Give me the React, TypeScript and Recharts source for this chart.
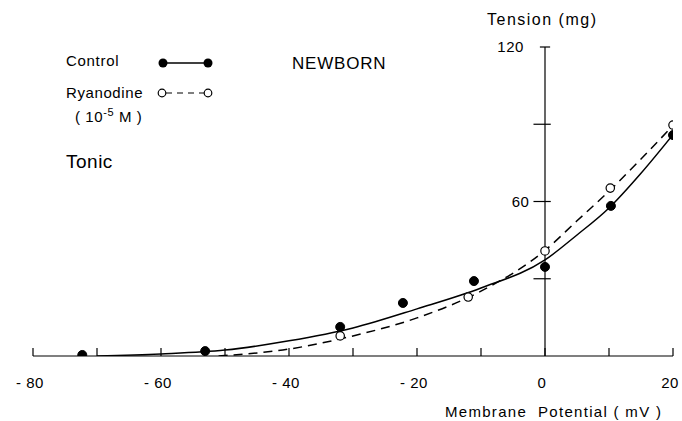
import React from 'react';
import { ComposedChart, Line, Scatter, XAxis, YAxis, ReferenceLine } from 'recharts';

const xTicks = [-80, -70, -60, -50, -40, -30, -20, -10, 0, 10, 20];
const xTickLabels: Record<number, string> = { [-80]: '- 80', [-60]: '- 60', [-40]: '- 40', [-20]: '- 20', 0: '0', 20: '20' };
const yTicks = [30, 60, 90, 120];
const yTickLabels: Record<number, string> = { 60: '60', 120: '120' };

const controlPoints = [
  { v: -72.3, t: 0.4 },
  { v: -53.1, t: 1.9 },
  { v: -32, t: 11.3 },
  { v: -22.2, t: 20.6 },
  { v: -11.1, t: 29.1 },
  { v: 0, t: 34.6 },
  { v: 10.3, t: 58.3 },
  { v: 20, t: 85.8 },
];
const ryanodinePoints = [
  { v: -32, t: 7.8 },
  { v: -12, t: 22.9 },
  { v: 0, t: 40.8 },
  { v: 10.2, t: 65.2 },
  { v: 20, t: 89.7 },
];
const controlCurve = [
  { v: -70, t: 0 },
  { v: -60, t: 0.8 },
  { v: -50, t: 2.3 },
  { v: -40, t: 5.9 },
  { v: -30, t: 10.9 },
  { v: -20, t: 18.3 },
  { v: -10, t: 26.4 },
  { v: 0, t: 37.3 },
  { v: 5, t: 47 },
  { v: 10, t: 57.5 },
  { v: 15, t: 71 },
  { v: 20, t: 86 },
];
const ryanodineCurve = [
  { v: -51, t: 0 },
  { v: -40, t: 2.7 },
  { v: -30, t: 7.8 },
  { v: -20, t: 14.8 },
  { v: -10, t: 25.2 },
  { v: 0, t: 41 },
  { v: 5, t: 52.5 },
  { v: 10, t: 64 },
  { v: 15, t: 76.5 },
  { v: 20, t: 89.5 },
];

const FONT = '"Liberation Sans", Arial, sans-serif';

const XTick = (props: any) => {
  const { x, y, payload } = props;
  const label = xTickLabels[payload.value];
  return (
    <g>
      <line x1={x} y1={y} x2={x} y2={y - 8} stroke="#000" strokeWidth={1.2} />
      {label !== undefined && (
        <text x={x - 3} y={y + 32} textAnchor="middle" fontSize={15} fontFamily={FONT} fill="#000" letterSpacing={0.5}>
          {label}
        </text>
      )}
    </g>
  );
};

const FilledDot = (props: any) => {
  const { cx, cy } = props;
  return <circle cx={cx} cy={cy} r={4.5} fill="#000" stroke="#000" />;
};
const OpenDot = (props: any) => {
  const { cx, cy } = props;
  return <circle cx={cx} cy={cy} r={4.2} fill="#fff" stroke="#000" strokeWidth={1.2} />;
};

const makeYLabel = (text: string, gap: number) => (p: any) => {
  const vb = p.viewBox || {};
  return (
    <text x={vb.x - gap} y={vb.y + 5} textAnchor="end" fontSize={15} fontFamily={FONT} fill="#000" letterSpacing={0.5}>
      {text}
    </text>
  );
};

export default function App() {
  return (
    <div style={{ position: 'absolute', left: 0, top: 0, width: 682, height: 421, background: '#fff' }}>
      <ComposedChart width={682} height={421} margin={{ top: 47, right: 9, bottom: 35, left: 33 }}>
        <XAxis
          type="number"
          dataKey="v"
          domain={[-80, 20]}
          ticks={xTicks}
          interval={0}
          allowDataOverflow
          axisLine={{ stroke: '#000', strokeWidth: 1.2 }}
          tickLine={false}
          tickSize={0}
          tickMargin={0}
          height={30}
          tick={<XTick />}
        />
        <YAxis type="number" dataKey="t" domain={[0, 120]} hide allowDataOverflow />
        <ReferenceLine x={0} stroke="#000" strokeWidth={1.2} />
        {yTicks.map((t) => (
          <ReferenceLine
            key={t}
            segment={t === 120 ? [{ x: -0.8, y: t }, { x: 0.8, y: t }] : [{ x: -1.8, y: t }, { x: 0.9, y: t }]}
            stroke="#000"
            strokeWidth={1.2}
            label={yTickLabels[t] ? makeYLabel(yTickLabels[t], t === 120 ? 16 : 4) : undefined}
          />
        ))}
        <Line data={controlCurve} dataKey="t" type="monotone" stroke="#000" strokeWidth={1.5} dot={false} isAnimationActive={false} />
        <Line data={ryanodineCurve} dataKey="t" type="monotone" stroke="#000" strokeWidth={1.5} strokeDasharray="9 6" dot={false} isAnimationActive={false} />
        <Scatter data={controlPoints} dataKey="t" shape={<FilledDot />} isAnimationActive={false} />
        <Scatter data={ryanodinePoints} dataKey="t" shape={<OpenDot />} isAnimationActive={false} />
      </ComposedChart>
      <svg width={682} height={421} style={{ position: 'absolute', left: 0, top: 0, pointerEvents: 'none' }}>
        <g fontFamily={FONT} fill="#000">
          <text x={487} y={25} fontSize={16} letterSpacing={1.5} style={{ whiteSpace: 'pre' }}>Tension (mg)</text>
          <text x={292} y={69} fontSize={17} letterSpacing={0.8}>NEWBORN</text>
          <text x={66} y={66} fontSize={15} letterSpacing={0.7}>Control</text>
          <text x={66} y={98} fontSize={15} letterSpacing={0.6}>Ryanodine</text>
          <text x={75} y={122} fontSize={15} letterSpacing={0.6} style={{ whiteSpace: 'pre' }}>
            ( 10<tspan dy={-6} fontSize={11}>-5</tspan><tspan dy={6}> M )</tspan>
          </text>
          <text x={66} y={168} fontSize={19} letterSpacing={0.5}>Tonic</text>
          <text x={445} y={417} fontSize={15} letterSpacing={1.3} style={{ whiteSpace: 'pre' }}>Membrane  Potential ( mV )</text>
        </g>
        <line x1={163} y1={63} x2={208} y2={63} stroke="#000" strokeWidth={1.5} />
        <circle cx={163} cy={63} r={4.5} fill="#000" />
        <circle cx={208} cy={63} r={4.5} fill="#000" />
        <line x1={166} y1={93} x2={204} y2={93} stroke="#000" strokeWidth={1.2} strokeDasharray="6 5" />
        <circle cx={162} cy={93} r={3.8} fill="#fff" stroke="#000" strokeWidth={1.2} />
        <circle cx={208} cy={93} r={3.8} fill="#fff" stroke="#000" strokeWidth={1.2} />
      </svg>
    </div>
  );
}
